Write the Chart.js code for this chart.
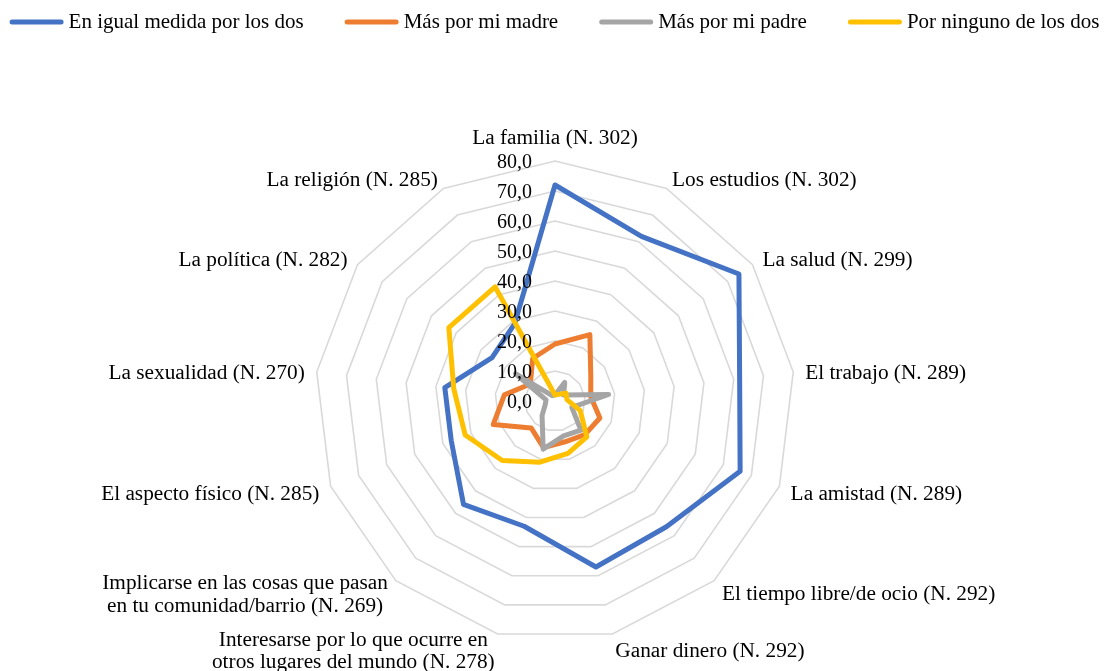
<!DOCTYPE html>
<html>
<head>
<meta charset="utf-8">
<script src="https://cdn.jsdelivr.net/npm/chart.js@4/dist/chart.umd.min.js"></script>
<style>
html,body{margin:0;padding:0;background:#fff;}
#wrap{width:1109px;height:671px;position:relative;}
</style>
</head>
<body>
<div id="wrap"><canvas id="c" width="1109" height="671"></canvas></div>
<script>
const categories = [
  'La familia (N. 302)',
  'Los estudios (N. 302)',
  'La salud (N. 299)',
  'El trabajo (N. 289)',
  'La amistad (N. 289)',
  'El tiempo libre/de ocio (N. 292)',
  'Ganar dinero (N. 292)',
  ['Interesarse por lo que ocurre en', 'otros lugares del mundo (N. 278)'],
  ['Implicarse en las cosas que pasan', 'en tu comunidad/barrio (N. 269)'],
  'El aspecto físico (N. 285)',
  'La sexualidad (N. 270)',
  'La política (N. 282)',
  'La religión (N. 285)'
];
const seriesNames = ['En igual medida por los dos', 'Más por mi madre', 'Más por mi padre', 'Por ninguno de los dos'];
const igualMedida = [72, 62, 74.5, 62, 66, 56, 57, 43, 46, 37, 37, 25.5, 29];
const masMadre    = [19, 25, 14.5, 12, 16, 15, 14, 16, 12, 22, 17, 10, 16];
const masPadre    = [2, 7, 3.5, 18, 6, 13, 12, 16.5, 6.5, 3.5, 3, 16, 2];
const ninguno     = [2, 2.5, 4.5, 4, 9, 16, 18, 21, 26.5, 32, 34, 43, 43];
const tickLabels  = ['0,0', '10,0', '20,0', '30,0', '40,0', '50,0', '60,0', '70,0', '80,0'];
const seriesColors = ['#4472C4', '#ED7D31', '#A5A5A5', '#FFC000'];

const radarText = {
  id: 'radarText',
  afterDatasetsDraw(chart) {
    const s = chart.scales.r;
    const ctx = chart.ctx;
    ctx.save();
    ctx.fillStyle = '#000';
    ctx.textBaseline = 'middle';
    // tick labels
    ctx.font = '20px "Liberation Serif"';
    ctx.textAlign = 'right';
    s.ticks.forEach((t, i) => {
      const d = s.getDistanceFromCenterForValue(t.value);
      ctx.fillText(tickLabels[i], s.xCenter - 23, s.yCenter - d + 2);
    });
    // point labels
    ctx.font = '21.3px "Liberation Serif"';
    const n = chart.data.labels.length;
    const lh = 22.5;
    ctx.textAlign = 'center';
    chart.data.labels.forEach((lab, i) => {
      const lines = Array.isArray(lab) ? lab : [lab];
      const p = s.getPointPosition(i, s.drawingArea + 12);
      const a = 2 * Math.PI * i / n;
      const sn = Math.sin(a), cs = Math.cos(a);
      const bw = Math.max(...lines.map(l => ctx.measureText(l).width));
      let cx;
      if (Math.abs(sn) < 1e-6) cx = p.x;
      else if (sn > 0) cx = p.x + bw / 2;
      else cx = p.x - bw / 2;
      let midY = p.y + 3;
      if (Math.abs(sn) < 1e-6 && cs > 0) midY = p.y - 11;
      if (cs < 0) midY += -3 * cs;
      const top = midY - (lines.length - 1) * lh / 2;
      lines.forEach((l, k) => ctx.fillText(l, cx, top + k * lh));
    });
    ctx.restore();
  }
};

const topLegend = {
  id: 'topLegend',
  afterDraw(chart) {
    const ctx = chart.ctx;
    ctx.save();
    ctx.font = '21px "Liberation Serif"';
    const box = 54, gapText = 5, gapItem = 41, y = 22;
    const items = chart.data.datasets.map(ds => ({ text: ds.label, color: ds.borderColor, w: ctx.measureText(ds.label).width }));
    const total = items.reduce((acc, it) => acc + box + gapText + it.w, 0) + gapItem * (items.length - 1);
    let x = (chart.width - total) / 2;
    items.forEach(it => {
      ctx.strokeStyle = it.color;
      ctx.lineWidth = 5;
      ctx.lineCap = 'round';
      ctx.beginPath();
      ctx.moveTo(x + 2.5, y);
      ctx.lineTo(x + box - 2.5, y);
      ctx.stroke();
      ctx.fillStyle = '#000';
      ctx.textAlign = 'left';
      ctx.textBaseline = 'middle';
      ctx.fillText(it.text, x + box + gapText, y);
      x += box + gapText + it.w + gapItem;
    });
    ctx.restore();
  }
};

const seriesData = [igualMedida, masMadre, masPadre, ninguno];
const drawOrder = [4, 3, 2, 1];

new Chart(document.getElementById('c'), {
  type: 'radar',
  data: {
    labels: categories,
    datasets: seriesNames.map((name, i) => ({
      label: name,
      data: seriesData[i],
      borderColor: seriesColors[i],
      backgroundColor: seriesColors[i],
      fill: false,
      order: drawOrder[i]
    }))
  },
  options: {
    responsive: false,
    animation: false,
    layout: { padding: { top: 161, bottom: 30, left: 315, right: 314 } },
    plugins: { legend: { display: false }, tooltip: { enabled: false } },
    elements: {
      line: { borderWidth: 5, tension: 0, borderJoinStyle: 'round' },
      point: { radius: 0, hoverRadius: 0 }
    },
    scales: {
      r: {
        min: 0,
        max: 80,
        ticks: { stepSize: 10, display: false },
        grid: { color: '#d9d9d9', lineWidth: 1.6 },
        angleLines: { display: false },
        pointLabels: { display: false }
      }
    }
  },
  plugins: [radarText, topLegend]
});
</script>
</body>
</html>
